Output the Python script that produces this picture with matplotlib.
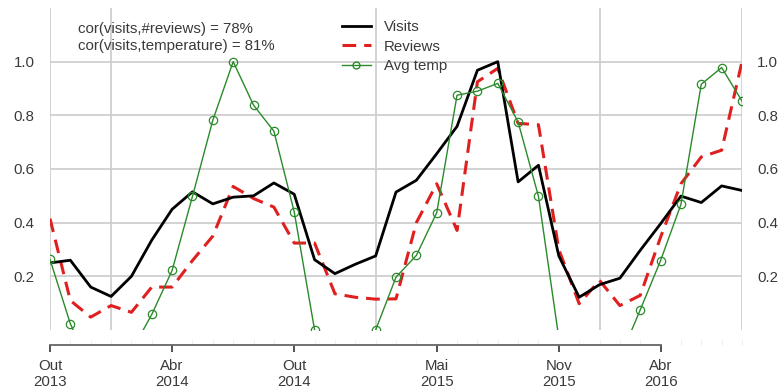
import matplotlib
matplotlib.use("Agg")
import matplotlib.pyplot as plt
from matplotlib.lines import Line2D
import numpy as np

plt.rcParams['font.family'] = ['Liberation Sans', 'DejaVu Sans']

# monthly series, Oct 2013 .. Aug 2016 (normalised)
months = np.arange(35)
visits = [0.25, 0.26, 0.16, 0.125, 0.20, 0.335, 0.45, 0.515, 0.47, 0.495,
          0.50, 0.548, 0.506, 0.262, 0.21, 0.245, 0.276, 0.514, 0.558, 0.657,
          0.759, 0.968, 1.0, 0.552, 0.614, 0.276, 0.122, 0.169, 0.193, 0.297,
          0.396, 0.499, 0.475, 0.537, 0.52]
reviews = [0.415, 0.11, 0.048, 0.091, 0.066, 0.16, 0.16, 0.259, 0.35, 0.535,
           0.49, 0.458, 0.324, 0.324, 0.135, 0.122, 0.115, 0.116, 0.40, 0.545,
           0.371, 0.925, 0.975, 0.77, 0.765, 0.30, 0.098, 0.185, 0.091, 0.129,
           0.346, 0.545, 0.645, 0.67, 1.0]
temp = [0.263, 0.023, -0.14, -0.22, -0.08, 0.058, 0.222, 0.498, 0.782, 1.0,
        0.838, 0.741, 0.44, 0.0, -0.2, -0.12, 0.0, 0.197, 0.278, 0.437,
        0.875, 0.89, 0.919, 0.775, 0.498, -0.03, -0.2, -0.25, -0.105, 0.075,
        0.259, 0.468, 0.916, 0.978, 0.853]

tick_pos = [0, 6, 12, 19, 25, 30]
tick_labels = ["Out\n2013", "Abr\n2014", "Out\n2014", "Mai\n2015", "Nov\n2015", "Abr\n2016"]
vgrid = [0, 3, 16, 27, 34]
yticks = [0.2, 0.4, 0.6, 0.8, 1.0]

txt = "#3a3a3a"
gridc = "#cfcfcf"
fs = 10.8

fig = plt.figure(figsize=(7.78, 3.92), dpi=100)
ax = fig.add_axes([50/778, 1-330/392, 692/778, 322/392])
ax.set_xlim(0, 34)
ax.set_ylim(0, 1.2)

for y in yticks:
    ax.axhline(y, color=gridc, lw=1.3, zorder=0)
for x in vgrid:
    ax.axvline(x, color=gridc, lw=1.3, zorder=0)

ax.plot(months, visits, color="black", lw=2.0, zorder=4)
ax.plot(months, reviews, color="#e02020", lw=2.2, dashes=(4.5, 2.6), zorder=3)
ax.plot(months, temp, color="#2a8a2a", lw=1.0, marker="o", ms=6,
        mfc="none", mec="#2a8a2a", mew=0.9, zorder=5)

for s in ["top", "left", "right"]:
    ax.spines[s].set_visible(False)
ax.spines["bottom"].set_position(("outward", 11))
ax.spines["bottom"].set_bounds(0, 30)
ax.spines["bottom"].set_color("#666666")
ax.spines["bottom"].set_linewidth(1.3)

ax.set_xticks(tick_pos)
ax.set_xticklabels(tick_labels, linespacing=1.15)
ax.set_xticks(months, minor=True)
ax.tick_params(axis="x", which="major", direction="out", length=5, width=1.3,
               color="#444444", labelsize=fs, labelcolor=txt, pad=5)
ax.tick_params(axis="x", which="minor", direction="in", length=4, width=0.8,
               color="#f0f0f0")

ax.set_yticks(yticks)
ax.set_yticklabels([f"{v:.1f}" for v in yticks])
ax.tick_params(axis="y", length=0, labelsize=fs, labelcolor=txt, pad=11,
               labelleft=True, labelright=True)

ax.text(28/692, (330-22)/322, "cor(visits,#reviews) = 78%\ncor(visits,temperature) = 81%",
        transform=ax.transAxes, fontsize=fs, color=txt, va="top", ha="left",
        linespacing=1.25)

handles = [
    Line2D([], [], color="black", lw=2.0),
    Line2D([], [], color="#e02020", lw=2.2, dashes=(4.5, 2.6)),
    Line2D([], [], color="#2a8a2a", lw=1.0, marker="o", ms=5, mfc="none", mec="#2a8a2a"),
]
ax.legend(handles, ["Visits", "Reviews", "Avg temp"], loc="upper left",
          bbox_to_anchor=((342-50)/692, (330-20)/322), frameon=False, fontsize=fs,
          handlelength=1.9, handletextpad=0.9, labelspacing=0.38,
          borderpad=0, borderaxespad=0, labelcolor=txt)

fig.savefig("out.png", dpi=100)
